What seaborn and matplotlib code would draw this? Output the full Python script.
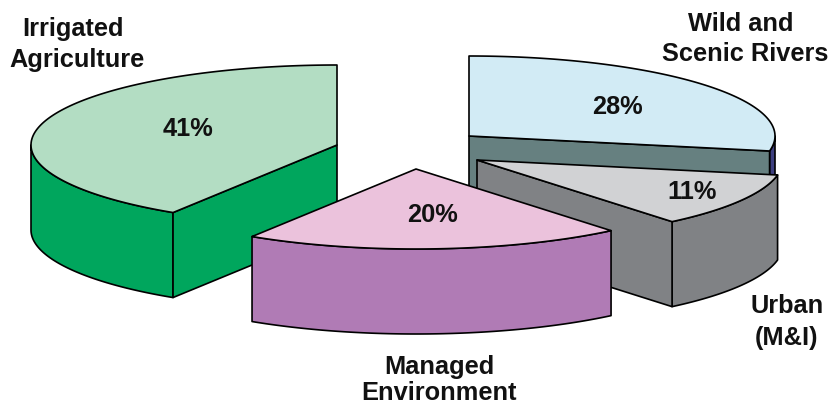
import matplotlib
matplotlib.use("Agg")
import matplotlib.pyplot as plt
from matplotlib.patches import Polygon
import numpy as np
import seaborn as sns

# data
labels = ["Irrigated\nAgriculture", "Wild and\nScenic Rivers", "Urban\n(M&I)", "Managed\nEnvironment"]
shares = [41, 28, 11, 20]

# slices go counter clockwise for the first one, clockwise for the rest, all from 12 o'clock
top_colors = sns.color_palette(["#B3DDC3", "#D2EBF5", "#D1D2D4", "#EBC2DC"])
wall_colors = sns.color_palette(["#00A65D", "#3D3F80", "#808285", "#B07BB5"])
cut_colors = sns.color_palette(["#00A65D", "#668080", "#808285", "#B07BB5"])

# exploded centre of every slice, in pixels
centres = [(337, 146), (469, 137), (477, 161), (416, 170)]
# one (x, y) per label line, the lines are not quite centred on each other
label_pos = [[(73, 29), (77, 60)], [(741, 24), (745, 54)], [(787, 306), (786, 338)], [(439, 367), (439, 393)]]
share_pos = [(188, 129), (617, 107), (692, 192), (432, 215)]

RX = 306
RY = 80
DEPTH = 85
LINE = 1.2
FONT = 18.3

sns.set_theme(style="white")
plt.rcParams["font.family"] = ["Liberation Sans", "DejaVu Sans"]


def rim(centre, t1, t2, drop=0):
    t = np.radians(np.linspace(t1, t2, 120))
    return np.column_stack([
        centre[0] + RX * np.cos(t),
        centre[1] - RY * np.sin(t) + drop
    ])


def slice_angles():
    # irrigated runs from 90 up, the others continue clockwise from 90 down
    first = (90, 90 + shares[0] * 3.6)
    angles = [first]
    start = 90
    for share in shares[1:]:
        angles.append((start, start - share * 3.6))
        start = start - share * 3.6
    return angles


def draw_slice(ax, i, t1, t2):
    c = centres[i]
    lo, hi = min(t1, t2), max(t1, t2)
    edge = dict(edgecolor="black", linewidth=LINE, joinstyle="round")

    # outer wall, only the front half of the ellipse shows
    ranges = [(max(lo, 180), min(hi, 360)), (max(lo, -180), min(hi, 0))]
    for a, b in ranges:
        if b > a:
            front = rim(c, a, b)
            back = rim(c, b, a, DEPTH)
            ax.add_patch(Polygon(np.vstack([front, back]), facecolor=wall_colors[i], **edge))

    # cut face that looks at the viewer
    if i < 3:
        end = rim(c, t2, t2)[0]
        face = [c, end, (end[0], end[1] + DEPTH), (c[0], c[1] + DEPTH)]
        ax.add_patch(Polygon(face, facecolor=cut_colors[i], **edge))

    # top of the slice
    top = np.vstack([[c], rim(c, t1, t2)])
    ax.add_patch(Polygon(top, facecolor=top_colors[i], **edge))


fig = plt.figure(figsize=(8.31, 4.06), dpi=100)
ax = fig.add_axes([0, 0, 1, 1])
ax.set_xlim(0, 831)
ax.set_ylim(406, 0)
ax.axis("off")

for i, (t1, t2) in enumerate(slice_angles()):
    draw_slice(ax, i, t1, t2)

for label, positions in zip(labels, label_pos):
    for line, pos in zip(label.split("\n"), positions):
        ax.text(pos[0], pos[1], line, ha="center", va="center", fontsize=FONT,
                fontweight="bold", color="#111111")

for share, pos in zip(shares, share_pos):
    ax.text(pos[0], pos[1], f"{share}%", ha="center", va="center", fontsize=FONT,
            fontweight="bold", color="#111111")

fig.savefig("out.png", dpi=100)
